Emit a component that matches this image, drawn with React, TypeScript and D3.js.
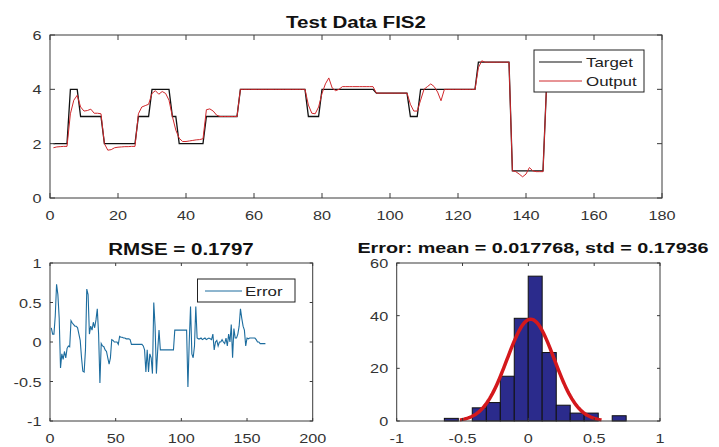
import React from "react";
import * as d3 from "d3";

// ---------- data ----------
const targetValues = [
  2, 2, 2, 2, 2, 4, 4, 4, 3, 3, 3, 3, 3, 3, 3, 2, 2, 2, 2, 2, 2, 2, 2, 2, 2,
  3, 3, 3, 3, 4, 4, 4, 4, 4, 4, 3, 3, 2, 2, 2, 2, 2, 2, 2, 2,
  3, 3, 3, 3, 3, 3, 3, 3, 3, 3,
  4, 4, 4, 4, 4, 4, 4, 4, 4, 4, 4, 4, 4, 4, 4, 4, 4, 4, 4, 4,
  3, 3, 3, 3,
  4, 4, 4, 4, 4, 4, 4, 4, 4, 4, 4, 4, 4, 4, 4, 4,
  3.86, 3.86, 3.86, 3.86, 3.86, 3.86, 3.86, 3.86, 3.86, 3.86,
  3, 3, 3,
  4, 4, 4, 4, 4, 4, 4, 4, 4, 4, 4, 4, 4, 4, 4, 4, 4,
  5, 5, 5, 5, 5, 5, 5, 5, 5, 5,
  1, 1, 1, 1, 1, 1, 1, 1, 1, 1,
  4,
];

const outputValues = [
  1.85, 1.88, 1.89, 1.9, 1.9, 3.1, 3.6, 3.78, 3.35, 3.2, 3.22, 3.27, 3.12, 3.12, 3.1,
  2.0, 1.76, 1.78, 1.85, 1.87, 1.88, 1.89, 1.89, 1.9, 1.9,
  3.1, 3.35, 3.4, 3.45, 3.85, 3.95, 3.82, 3.92, 3.85, 3.6, 3.0, 2.5, 2.2, 2.08, 2.08,
  2.1, 2.12, 2.14, 2.15, 2.18, 3.25, 3.28, 3.2, 3.05,
  3.0, 3.0, 3.0, 3.0, 3.0, 3.0,
  4, 4, 4, 4, 4, 4, 4, 4, 4, 4, 4, 4, 4, 4, 4, 4, 4, 4, 4, 4,
  3.42, 3.12, 3.1, 3.35, 3.85, 4.2, 4.42, 4.05, 3.95, 4.0,
  4.1, 4.1, 4.1, 4.1, 4.1, 4.1, 4.1, 4.1, 4.1, 4.1,
  3.86, 3.86, 3.86, 3.86, 3.86, 3.86, 3.86, 3.86, 3.86, 3.86,
  3.45, 3.2, 3.2, 3.6, 4.0, 4.1, 4.2, 4.1, 3.9, 3.58, 4.0,
  4, 4, 4, 4, 4, 4, 4, 4, 4,
  4.8, 5.05,
  5, 5, 5, 5, 5, 5, 5, 5,
  1.0, 0.97, 0.88, 0.78, 0.88, 1.12, 1.0, 0.97, 0.97, 0.97, 4.0,
];

const errorValues = [
  0.18, 0.1, 0.1, 0.33, 0.73, 0.6, 0.3, -0.33, -0.15, -0.22,
  -0.12, -0.2, -0.08, -0.05, -0.06, 0.27, 0.24, 0.22, 0.2, 0.2,
  0.18, 0.1, 0.02, -0.2, -0.37, -0.38, -0.1, 0.67, 0.6, 0.1,
  0.2, 0.15, 0.25, 0.18, 0.28, 0.42, 0.1, -0.52, -0.02, -0.05,
  -0.06, -0.1, -0.12, -0.2, -0.28, -0.2, 0.03, 0.02, 0.0, 0.0,
  0.0, -0.03, 0.07, 0.06, 0.06, 0.05, 0.05, 0.04, 0.04, 0.04,
  0.03, -0.03, -0.03, -0.03, -0.03, -0.03, -0.03, -0.03, -0.03, -0.03,
  -0.05, -0.1, -0.38, -0.1, -0.38, -0.15, -0.2, -0.4, 0.5, 0.2,
  -0.4, -0.1, 0.15, -0.1, -0.1, -0.1, -0.1, -0.1, -0.1, -0.1,
  -0.1, -0.1, -0.1, -0.1, 0.15, 0.15, 0.15, 0.15, 0.15, 0.15,
  0.15, 0.15, 0.15, 0.15, -0.57, 0.0, 0.45, -0.15, -0.2, -0.05,
  0.45, 0.05, 0.04, 0.04, 0.05, 0.03, 0.04, 0.05, 0.03, 0.04,
  0.05, 0.04, 0.03, 0.1, -0.1, 0.0, 0.02, -0.05, 0.0, 0.0,
  0.03, 0.0, -0.02, 0.05, -0.05, 0.1, 0.0, 0.22, -0.2, 0.17,
  0.05, 0.05, 0.1, 0.2, 0.42, 0.3, 0.2, 0.15, -0.05, 0.05,
  0.04, 0.05, 0.05, 0.05, 0.05, 0.05, 0.03, 0.0, 0.0, -0.02,
  -0.02, -0.02, -0.02, -0.02,
];

const histEdges = [
  -0.638, -0.532, -0.426, -0.319, -0.213, -0.107, -0.001, 0.105, 0.212, 0.318,
  0.424, 0.531, 0.637, 0.743,
];
const histCounts = [1, 0, 5, 7, 17, 39, 55, 26, 6, 3, 3, 0, 2];

const fitMean = 0.017768;
const fitStd = 0.17936;
const rmseValue = 0.1797;

const topXTicks = [0, 20, 40, 60, 80, 100, 120, 140, 160, 180];
const topYTicks = [0, 2, 4, 6];
const errXTicks = [0, 50, 100, 150, 200];
const errYTicks = [-1, -0.5, 0, 0.5, 1];
const histXTicks = [-1, -0.5, 0, 0.5, 1];
const histYTicks = [0, 20, 40, 60];

// ---------- styling ----------
const SX = 1.3;
const FONT = "'Liberation Sans', Arial, Helvetica, sans-serif";
const AXIS = "#3a3a3a";
const TICKTXT = "#333333";

function T(props: any) {
  const { x, y, anchor = "start", size = 12.5, bold = false, fill = TICKTXT, children } = props;
  return (
    <text
      transform={`translate(${x},${y}) scale(${SX},1)`}
      textAnchor={anchor}
      fontSize={size}
      fontWeight={bold ? "bold" : "normal"}
      fontFamily={FONT}
      fill={fill}
    >
      {children}
    </text>
  );
}

function fmt(v: number) {
  return String(v);
}

function Axes(props: any) {
  const { xs, ys, xticks, yticks, tickLen } = props;
  const [x0, x1] = xs.range();
  const [y0, y1] = ys.range(); // y0 bottom, y1 top
  return (
    <g>
      <rect x={x0} y={y1} width={x1 - x0} height={y0 - y1} fill="none" stroke={AXIS} strokeWidth={1} />
      {xticks.map((t: number) => (
        <g key={"x" + t}>
          <line x1={xs(t)} x2={xs(t)} y1={y0} y2={y0 - tickLen} stroke={AXIS} />
          <line x1={xs(t)} x2={xs(t)} y1={y1} y2={y1 + tickLen} stroke={AXIS} />
          <T x={xs(t)} y={y0 + 22} anchor="middle">{fmt(t)}</T>
        </g>
      ))}
      {yticks.map((t: number) => (
        <g key={"y" + t}>
          <line x1={x0} x2={x0 + tickLen} y1={ys(t)} y2={ys(t)} stroke={AXIS} />
          <line x1={x1} x2={x1 - tickLen} y1={ys(t)} y2={ys(t)} stroke={AXIS} />
          <T x={x0 - 8.5} y={ys(t) + 5} anchor="end">{fmt(t)}</T>
        </g>
      ))}
    </g>
  );
}

export default function App() {
  // top plot
  const tx = d3.scaleLinear().domain([0, 180]).range([50, 662]);
  const ty = d3.scaleLinear().domain([0, 6]).range([198, 35]);
  const topLine = d3
    .line<number>()
    .x((_, i) => tx(i + 1))
    .y((d) => ty(d));

  // error plot
  const ex = d3.scaleLinear().domain([0, 200]).range([50, 312.7]);
  const ey = d3.scaleLinear().domain([-1, 1]).range([421, 263]);
  const errLine = d3
    .line<number>()
    .x((_, i) => ex(i + 1))
    .y((d) => ey(d));

  // histogram
  const hx = d3.scaleLinear().domain([-1, 1]).range([396.7, 660]);
  const hy = d3.scaleLinear().domain([0, 60]).range([421, 263]);
  const n = d3.sum(histCounts);
  const bw = histEdges[1] - histEdges[0];
  const curveX = d3.range(0, 101).map((k) => fitMean - 3 * fitStd + (6 * fitStd * k) / 100);
  const curve = d3
    .line<number>()
    .x((v) => hx(v))
    .y((v) => hy((n * bw * Math.exp(-0.5 * ((v - fitMean) / fitStd) ** 2)) / (fitStd * Math.sqrt(2 * Math.PI))));

  return (
    <svg
      width={719}
      height={447}
      style={{ position: "absolute", left: 0, top: 0, background: "#fff" }}
    >
      <rect width={719} height={447} fill="#fff" />

      {/* ---- top plot ---- */}
      <T x={356} y={28} anchor="middle" size={15.8} bold fill="#111">Test Data FIS2</T>
      <path d={topLine(targetValues) || ""} fill="none" stroke="#111" strokeWidth={1.3} />
      <path d={topLine(outputValues) || ""} fill="none" stroke="#d0282c" strokeWidth={1} />
      <Axes xs={tx} ys={ty} xticks={topXTicks} yticks={topYTicks} tickLen={5} />
      <g>
        <rect x={534} y={50} width={110} height={42} fill="#fff" stroke="#222" strokeWidth={1} />
        <line x1={539} x2={582} y1={62} y2={62} stroke="#111" strokeWidth={1.2} />
        <T x={586} y={66.5} size={13} fill="#222">Target</T>
        <line x1={539} x2={582} y1={81} y2={81} stroke="#d0282c" strokeWidth={1} />
        <T x={586} y={85.5} size={13} fill="#222">Output</T>
      </g>

      {/* ---- error plot ---- */}
      <T x={181} y={255} anchor="middle" size={15.8} bold fill="#111">{`RMSE = ${rmseValue}`}</T>
      <path d={errLine(errorValues) || ""} fill="none" stroke="#1c6c9e" strokeWidth={1.1} />
      <Axes xs={ex} ys={ey} xticks={errXTicks} yticks={errYTicks} tickLen={3} />
      <g>
        <rect x={197.5} y={279} width={97.5} height={23} fill="#fff" stroke="#222" strokeWidth={1} />
        <line x1={205} x2={242} y1={291} y2={291} stroke="#1c6c9e" strokeWidth={1} />
        <T x={245} y={295.5} size={13} fill="#222">Error</T>
      </g>

      {/* ---- histogram ---- */}
      <T x={533} y={252.5} anchor="middle" size={15.2} bold fill="#111">{`Error: mean = ${fitMean}, std = ${fitStd}`}</T>
      {histCounts.map((c, i) =>
        c > 0 ? (
          <rect
            key={i}
            x={hx(histEdges[i])}
            y={hy(c)}
            width={hx(histEdges[i + 1]) - hx(histEdges[i])}
            height={hy(0) - hy(c)}
            fill="#2b2b8c"
            stroke="#111"
            strokeWidth={1}
          />
        ) : null
      )}
      <path d={curve(curveX) || ""} fill="none" stroke="#d4181c" strokeWidth={3.5} />
      <Axes xs={hx} ys={hy} xticks={histXTicks} yticks={histYTicks} tickLen={3} />
    </svg>
  );
}
